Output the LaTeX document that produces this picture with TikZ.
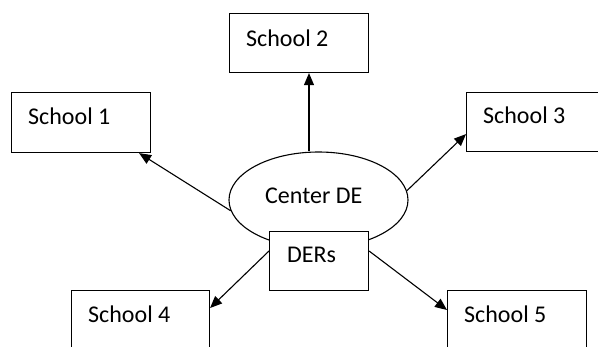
\documentclass[tikz,border=0pt]{standalone}
\usepackage{fontspec}
\setmainfont{Carlito}
\usetikzlibrary{arrows.meta,calc,shapes.geometric}
\begin{document}
\begin{tikzpicture}[x=1pt,y=-1pt,
  box/.style={draw,line width=1.1pt,fill=white,inner sep=0pt,anchor=north west,
    minimum height=60pt,minimum width=139pt},
  lbl/.style={inner sep=0pt,anchor=base west,font=\fontsize{24pt}{29pt}\selectfont},
  arr/.style={line width=1.1pt,-{Triangle[length=12pt,width=10pt]}}]
  \clip (0,0) rectangle (598,346);
  % the central ellipse and the DERs box on top of it
  \node[ellipse,draw,line width=1.1pt,minimum width=179pt,minimum height=96pt,inner sep=0pt]
    (ce) at (318.5,200) {};
  \node[box,minimum width=99pt,minimum height=59pt] (der) at (269,231) {};
  % the five schools
  \node[box] (s1) at (11,92) {};
  \node[box,minimum height=59pt] (s2) at (229,13) {};
  \node[box,minimum height=59pt] (s3) at (466,92) {};
  \node[box,minimum width=138pt,minimum height=70pt] (s4) at (71,290) {};
  \node[box,minimum height=70pt] (s5) at (447,290) {};
  % texts
  \node[lbl] (t1) at (28,124) {School 1};
  \node[lbl] (t2) at (246,46) {School 2};
  \node[lbl] (t3) at (483,123) {School 3};
  \node[lbl] (t4) at (88,322) {School 4};
  \node[lbl] (t5) at (464,322) {School 5};
  \node[lbl] (tc) at (265,203) {Center DE};
  \node[lbl] (td) at (287,262) {DERs};
  % connectors
  \draw[arr] (ce.187) -- ($(s1.south east)+(-12,0)$);
  \coordinate (up) at ($(ce.north)+(-9.5,0)$);
  \draw[arr] (up) -- (up |- s2.south);
  \draw[arr] (ce.6) -- ($(s3.south west)+(0,-18)$);
  \draw[arr] ($(der.north west)+(0,20)$) -- ($(s4.north east)+(0,18)$);
  \draw[arr] ($(der.north east)+(0,20)$) -- ($(s5.north west)+(0,20)$);
\end{tikzpicture}
\end{document}
